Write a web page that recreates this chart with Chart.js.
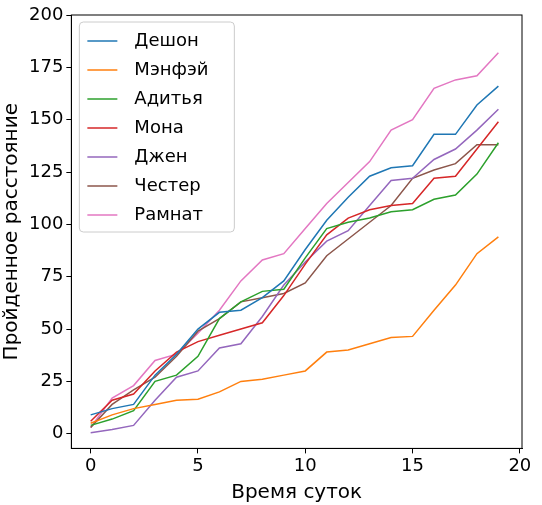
<!DOCTYPE html><html><head><script src="https://cdn.jsdelivr.net/npm/chart.js"></script>
<style>body{margin:0;background:#fff}#w{width:542px;height:505px}</style></head><body><div id="w"><canvas id="c"></canvas></div>
<script>
const xs=[0,1,2,3,4,5,6,7,8,9,10,11,12,13,14,15,16,17,18,19];
const names=["Дешон","Мэнфэй","Адитья","Мона","Джен","Честер","Рамнат"];
const colors=["#1f77b4","#ff7f0e","#2ca02c","#d62728","#9467bd","#8c564b","#e377c2"];
const deshon=[9,12,14,28,38,50,58,59,65,73,88,102,113,123,127,128,143,143,157,166];
const menfei=[5,9,12,14,16,16.5,20,25,26,28,30,39,40,43,46,46.5,59,71,86,94];
const aditya=[4,7,11,25,28,37,55,63,68,69,84,98,101,103,106,107,112,114,124,139];
const mona=[6,16,19,30,39,44,47,50,53,66,81,95,103,107,109,110,122,123,136,149];
const jen=[0.5,2,4,16,27,30,41,43,56,71,82,92,97,109,121,122,131,136,145,155];
const chester=[3,14,21,27,37,49,55,63,65,67,72,85,93,101,109,122,126,129,138,138];
const ramnat=[3,17,23,35,38,48,59,73,83,86,98,110,120,130,145,150,165,169,171,182];
const series=[deshon,menfei,aditya,mona,jen,chester,ramnat];
const F='"DejaVu Sans"';
const legendPlugin={id:'lg',afterDraw(ch){const c=ch.ctx,a=ch.chartArea;const x0=a.left+8,y0=a.top+7,w=155,h=210;
c.save();c.fillStyle='rgba(255,255,255,0.85)';c.strokeStyle='#ccc';c.lineWidth=1;
c.beginPath();c.roundRect(x0,y0,w,h,4);c.fill();c.stroke();
c.font='18px '+F;c.textBaseline='middle';
names.forEach((n,i)=>{const y=y0+19+i*29;c.strokeStyle=colors[i];c.lineWidth=1.5;c.beginPath();c.moveTo(x0+8,y);c.lineTo(x0+38,y);c.stroke();c.fillStyle='#000';c.fillText(n,x0+55,y);});
c.restore();}};
const grid={display:true,drawOnChartArea:false,drawTicks:true,tickLength:5,color:'#000'};
new Chart(document.getElementById('c'),{type:'line',data:{datasets:series.map((s,i)=>({label:names[i],data:s.map((v,j)=>({x:xs[j],y:v})),borderColor:colors[i],borderWidth:1.5,pointRadius:0,tension:0}))},
options:{responsive:true,maintainAspectRatio:false,animation:false,layout:{padding:{top:15,right:20,left:0,bottom:0}},
plugins:{legend:{display:false},tooltip:{enabled:false}},
scales:{x:{type:'linear',min:-0.9,max:20.1,afterBuildTicks(ax){ax.ticks=[0,5,10,15,20].map(v=>({value:v}));},grid,border:{color:'#000'},ticks:{color:'#000',padding:2,font:{size:18,family:F}},title:{display:true,text:'Время суток',color:'#000',padding:{top:2,bottom:0},font:{size:20,family:F}}},
y:{min:-7,max:200,afterBuildTicks(ax){ax.ticks=[0,25,50,75,100,125,150,175,200].map(v=>({value:v}));},grid,border:{color:'#000'},ticks:{color:'#000',padding:3,font:{size:18,family:F}},title:{display:true,text:'Пройденное расстояние',color:'#000',padding:{top:0,bottom:2},font:{size:20,family:F}}}}},
plugins:[legendPlugin,{id:'fr',afterDraw(ch){const c=ch.ctx,a=ch.chartArea;c.save();c.strokeStyle='#000';c.lineWidth=1;c.strokeRect(a.left,a.top,a.right-a.left,a.bottom-a.top);c.restore();}}]});
</script></body></html>
